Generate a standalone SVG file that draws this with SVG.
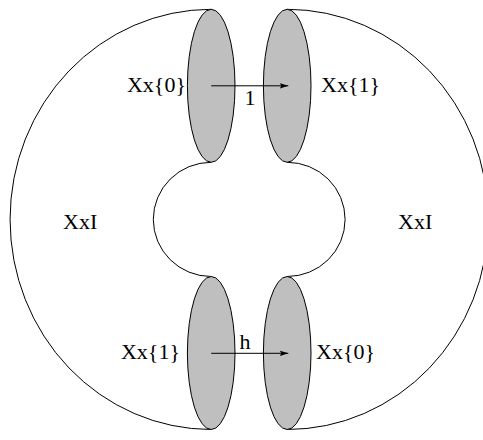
<svg xmlns="http://www.w3.org/2000/svg" width="483" height="440" viewBox="0 0 483 440">
<style>
.line{fill:none;stroke:#000;stroke-width:1}
.disk{fill:#bfbfbf;stroke:#000;stroke-width:1}
.lbl{font-family:"Liberation Serif","Times New Roman",serif;font-size:22px;fill:#000}
.conn{fill:none;stroke:#000;stroke-width:1}
</style>
<defs>
<marker id="arr" markerWidth="10" markerHeight="6" refX="8.5" refY="3" orient="auto" markerUnits="userSpaceOnUse">
<path d="M0,0.3 L8.5,3 L0,5.7 L1.5,3 Z" fill="#000"/>
</marker>
</defs>
<rect width="483" height="440" fill="#fff"/>
<g id="surface">
<path class="line" d="M211.2,9.3 A201.2,210.1 0 0 0 211.2,429.5"/>
<path class="line" d="M287.2,9.3 A201.2,210.1 0 0 1 287.2,429.5"/>
<path class="line" d="M211.2,162.3 A57.9,57.1 0 0 0 211.2,276.5"/>
<path class="line" d="M287.2,162.3 A57.9,57.1 0 0 1 287.2,276.5"/>
<text class="lbl" x="63" y="229">XxI</text>
<text class="lbl" x="398" y="229">XxI</text>
</g>
<g id="disk-top-left">
<ellipse class="disk" cx="211.2" cy="85.8" rx="23.8" ry="76.5"/>
<text class="lbl" x="186" y="92" text-anchor="end">Xx{0}</text>
</g>
<g id="disk-top-right">
<ellipse class="disk" cx="287.2" cy="85.8" rx="23.8" ry="76.5"/>
<text class="lbl" x="321" y="92">Xx{1}</text>
</g>
<g id="disk-bottom-left">
<ellipse class="disk" cx="211.2" cy="353" rx="23.8" ry="76.5"/>
<text class="lbl" x="180" y="359" text-anchor="end">Xx{1}</text>
</g>
<g id="disk-bottom-right">
<ellipse class="disk" cx="287.2" cy="353" rx="23.8" ry="76.5"/>
<text class="lbl" x="316" y="358.5">Xx{0}</text>
</g>
<g id="connectors">
<path class="conn" d="M211.2,85.8 L288.3,85.8" marker-end="url(#arr)"/>
<text class="lbl" x="250" y="105" text-anchor="middle">1</text>
<path class="conn" d="M211.2,353.3 L288.3,353.3" marker-end="url(#arr)"/>
<text class="lbl" x="245" y="349" text-anchor="middle">h</text>
</g>
</svg>
